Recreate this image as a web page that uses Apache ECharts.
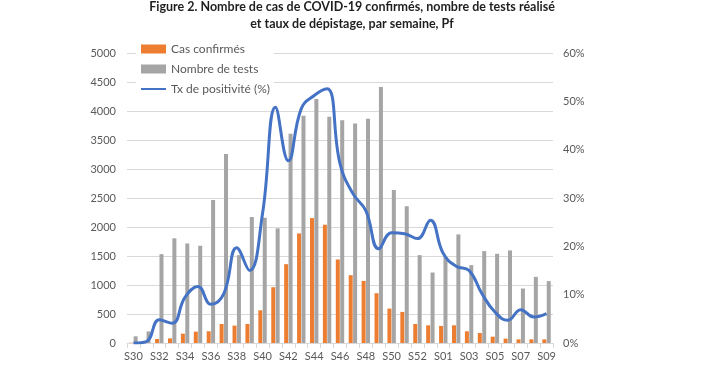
<!DOCTYPE html>
<html><head><meta charset="utf-8">
<script src="https://cdn.jsdelivr.net/npm/echarts@6/dist/echarts.min.js"></script>
<style>html,body{margin:0;padding:0;background:#fff}#c{width:710px;height:377px}</style>
</head><body><div id="c"></div>
<script>
const categories = ['S30','S31','S32','S33','S34','S35','S36','S37','S38','S39','S40','S41','S42','S43','S44','S45','S46','S47','S48','S49','S50','S51','S52','S53','S01','S02','S03','S04','S05','S06','S07','S08','S09'];
const casConfirmes = [5,10,69,80,161,196,202,328,300,328,564,962,1359,1889,2154,2039,1440,1169,1071,858,593,536,328,305,294,305,202,173,109,75,63,63,63];
const nombreTests = [115,200,1532,1805,1716,1676,2465,3260,1515,2172,2160,1976,3606,3917,4205,3900,3842,3784,3865,4412,2638,2356,1515,1215,1486,1872,1342,1584,1538,1596,939,1140,1066];
const txPositivite = [0.0,0.3,4.8,4.1,9.5,11.7,8.0,10.2,19.7,15.0,26.8,48.8,37.7,48.5,51.2,52.6,37.1,30.9,27.4,19.5,22.8,22.6,21.6,25.4,18.5,15.9,15.0,10.2,6.4,4.7,6.9,5.4,6.1];
const rightTicks = ['0%','10%','20%','30%','40%','50%','60%'];

const chart = echarts.init(document.getElementById('c'));
const lbl = {color:'#595959', fontFamily:'Lato', fontSize:11};
chart.setOption({
  animation:false,
  backgroundColor:'#fff',
  title:{
    text:'Figure 2. Nombre de cas de COVID-19 confirmés, nombre de tests réalisé\n{c|et taux de dépistage, par semaine, Pf}',
    left:347, top:-7, textAlign:'center',
    textStyle:{fontFamily:'Lato', fontWeight:'bold', fontSize:12.5, color:'#1f1f1f', lineHeight:17, align:'center',
      rich:{c:{fontFamily:'Lato', fontWeight:'bold', fontSize:12.5, color:'#1f1f1f', lineHeight:17, align:'center'}}}
  },
  legend:{
    orient:'vertical', left:136, top:40, itemGap:8, itemWidth:25, itemHeight:9,
    backgroundColor:'#fff', padding:[3,4,3,4],
    textStyle:{color:'#595959', fontFamily:'Lato', fontSize:12},
    data:[{name:'Cas confirmés', icon:'rect'},{name:'Nombre de tests', icon:'rect'},{name:'Tx de positivité (%)', itemStyle:{opacity:0}}]
  },
  grid:{left:127, right:157, top:53, bottom:34},
  xAxis:{
    type:'category', data:categories, boundaryGap:true,
    axisLine:{lineStyle:{color:'#D9D9D9'}},
    axisTick:{show:true, alignWithLabel:false, interval:0, lineStyle:{color:'#D9D9D9'}},
    axisLabel:Object.assign({interval:1, margin:8}, lbl)
  },
  yAxis:[
    {type:'value', min:0, max:5000, interval:500,
     axisLabel:Object.assign({margin:11, formatter:v=>String(v)}, lbl),
     axisLine:{show:false}, axisTick:{show:false},
     splitLine:{lineStyle:{color:'#D9D9D9'}}},
    {type:'value', min:0, max:60, interval:10, position:'right',
     axisLabel:Object.assign({margin:10, formatter:v=>rightTicks[Math.round(v/10)]}, lbl),
     axisLine:{show:false}, axisTick:{show:false}, splitLine:{show:false}}
  ],
  series:[
    {name:'Cas confirmés', type:'bar', data:casConfirmes, barWidth:4, barGap:'10%', itemStyle:{color:'#ED7D31'}, z:2},
    {name:'Nombre de tests', type:'bar', data:nombreTests, barWidth:4, itemStyle:{color:'#A5A5A5'}, z:2},
    {name:'Tx de positivité (%)', type:'line', yAxisIndex:1, data:txPositivite, smooth:0.45, symbol:'none',
     lineStyle:{color:'#4472C4', width:3}, itemStyle:{color:'#4472C4'}, z:3}
  ]
});
</script></body></html>
